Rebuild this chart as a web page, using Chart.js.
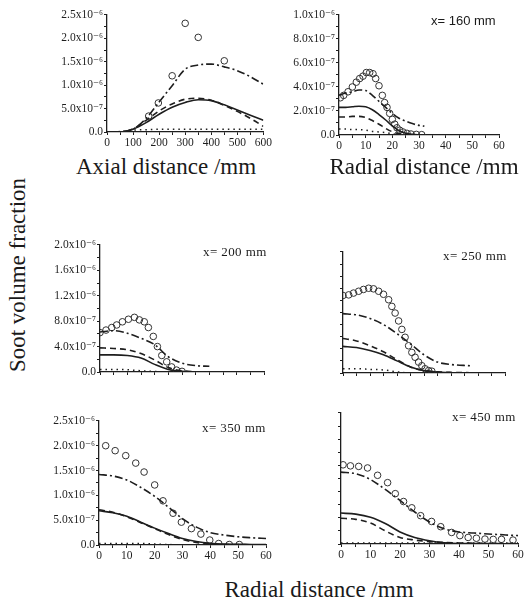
<!DOCTYPE html>
<html>
<head>
<meta charset="utf-8">
<script src="https://cdn.jsdelivr.net/npm/chart.js@4.4.1/dist/chart.umd.min.js"></script>
<style>
    body { margin: 0; width: 526px; height: 601px; position: relative; overflow: hidden; background: #fff; font-family: "Liberation Serif", "DejaVu Serif", serif; color: #1a1a1a; }
    canvas { position: absolute; }
    .note { position: absolute; white-space: nowrap; font-size: 13px; letter-spacing: 0.4px; transform: translateY(-50%); }
    .note.sans { font-family: "Liberation Sans", Arial, sans-serif; font-size: 13px; letter-spacing: 0; }
    .title { position: absolute; white-space: nowrap; font-size: 23px; transform: translate(-50%, -50%); }
</style>
</head>
<body>

<script>
// soot volume fraction values are in units of 1e-6
const axialTicks = [0, 100, 200, 300, 400, 500, 600];
const radialTicks = [0, 10, 20, 30, 40, 50, 60];
const yTicks25 = [0, 0.5, 1.0, 1.5, 2.0, 2.5];
const yTicks20 = [0, 0.4, 0.8, 1.2, 1.6, 2.0];
const yTicks10 = [0, 0.2, 0.4, 0.6, 0.8, 1.0];

// axial profile
const p1ExpX = [160, 197, 250, 300, 350, 450];
const p1ExpY = [0.34, 0.62, 1.2, 2.32, 2.02, 1.52];
const p1LineX = [0, 50, 100, 150, 200, 250, 300, 350, 400, 450, 500, 550, 600];
const p1Solid = [0, 0, 0.06, 0.2, 0.38, 0.53, 0.63, 0.69, 0.67, 0.58, 0.47, 0.36, 0.25];
const p1Dashed = [0, 0, 0.07, 0.25, 0.45, 0.6, 0.7, 0.72, 0.68, 0.57, 0.44, 0.29, 0.12];
const p1DashDot = [0, 0.01, 0.06, 0.29, 0.64, 0.99, 1.34, 1.43, 1.45, 1.39, 1.31, 1.18, 1.02];
const p1Dotted = [0, 0, 0.04, 0.05, 0.06, 0.06, 0.06, 0.06, 0.06, 0.06, 0.06, 0.06, 0.06];

// x = 160 mm
const p2ExpX = [0.5, 1.75, 3.4, 5, 6.5, 7.75, 9, 10.25, 11.5, 12.75, 13.75, 15, 16.25, 17.1, 18, 19, 20, 20.9, 21.75, 22.75, 24, 25.5, 27, 29, 31];
const p2ExpY = [0.31, 0.33, 0.36, 0.40, 0.44, 0.47, 0.49, 0.52, 0.52, 0.51, 0.47, 0.41, 0.33, 0.27, 0.23, 0.18, 0.13, 0.09, 0.06, 0.04, 0.025, 0.014, 0.008, 0.005, 0.003];
const p2LineX = [0, 2.5, 5, 7.5, 10, 12.5, 15, 17.5, 20, 22.5, 25, 27.5, 30, 32];
const p2Solid = [0.23, 0.23, 0.235, 0.24, 0.235, 0.21, 0.17, 0.125, 0.075, 0.035, 0.015, 0.006, 0.002, 0];
const p2Dashed = [0.15, 0.15, 0.155, 0.155, 0.145, 0.12, 0.09, 0.055, 0.027, 0.012, 0.005, 0.002, 0, 0];
const p2DashDot = [0.33, 0.35, 0.36, 0.375, 0.37, 0.33, 0.28, 0.23, 0.18, 0.14, 0.115, 0.095, 0.08, 0.074];
const p2Dotted = [0.05, 0.05, 0.045, 0.045, 0.04, 0.03, 0.025, 0.02, 0.01, 0.004, 0, 0, 0, 0];

// x = 200 mm
const p3ExpX = [0, 2.2, 4.3, 6.1, 8.2, 10.4, 12.6, 14.4, 16.2, 17.7, 19.5, 21, 22.6, 24.4, 26.2, 28, 30];
const p3ExpY = [0.62, 0.66, 0.70, 0.74, 0.79, 0.83, 0.86, 0.82, 0.79, 0.70, 0.56, 0.40, 0.26, 0.16, 0.08, 0.03, 0.01];
const p3LineX = [0, 5, 10, 15, 20, 25, 30, 35, 40];
const p3Solid = [0.27, 0.27, 0.26, 0.22, 0.12, 0.04, 0.01, 0, 0];
const p3Dashed = [0.38, 0.37, 0.35, 0.29, 0.19, 0.07, 0.02, 0.005, 0];
const p3DashDot = [0.63, 0.65, 0.61, 0.53, 0.43, 0.24, 0.14, 0.10, 0.09];
const p3Dotted = [0.04, 0.04, 0.035, 0.02, 0.01, 0, 0, 0, 0];

// x = 250 mm
const p4ExpX = [0, 2.1, 3.9, 5.8, 7.6, 9.5, 11.3, 13.2, 15, 16.9, 18.1, 19.3, 20.6, 21.8, 23, 24.3, 25.5, 26.7, 28, 29.2, 30.4, 31.7, 32.9];
const p4ExpY = [1.28, 1.29, 1.32, 1.35, 1.38, 1.40, 1.39, 1.35, 1.30, 1.21, 1.10, 0.99, 0.86, 0.72, 0.59, 0.45, 0.34, 0.26, 0.18, 0.12, 0.07, 0.04, 0.03];
const p4LineX = [0, 5, 10, 15, 20, 25, 30, 35, 40, 47];
const p4Solid = [0.44, 0.42, 0.37, 0.30, 0.20, 0.10, 0.04, 0.015, 0.005, 0];
const p4Dashed = [0.57, 0.53, 0.45, 0.35, 0.22, 0.10, 0.04, 0.02, 0.01, 0.005];
const p4DashDot = [0.98, 0.96, 0.90, 0.80, 0.65, 0.48, 0.30, 0.18, 0.14, 0.12];
const p4Dotted = [0.07, 0.07, 0.06, 0.05, 0.02, 0, 0, 0, 0, 0];

// x = 350 mm
const p5ExpX = [2.4, 5.8, 9.6, 13.2, 16.2, 20, 23, 26.6, 29.6, 33.2, 36.6, 39.8, 43, 46.8, 50.4];
const p5ExpY = [2.0, 1.90, 1.80, 1.65, 1.47, 1.21, 0.89, 0.64, 0.46, 0.33, 0.22, 0.10, 0.03, 0.01, 0.01];
const p5LineX = [0, 5, 10, 15, 20, 25, 30, 35, 40, 45, 50, 55, 60];
const p5Solid = [0.69, 0.65, 0.58, 0.46, 0.34, 0.23, 0.13, 0.07, 0.035, 0.02, 0.015, 0.01, 0.01];
const p5Dashed = [0.71, 0.66, 0.57, 0.45, 0.33, 0.21, 0.11, 0.05, 0.02, 0.01, 0.01, 0.005, 0.005];
const p5DashDot = [1.42, 1.39, 1.31, 1.16, 0.98, 0.76, 0.53, 0.36, 0.25, 0.20, 0.165, 0.145, 0.13];
const p5Dotted = [0.03, 0.03, 0.03, 0.03, 0.02, 0.01, 0, 0, 0, 0, 0, 0, 0];

// x = 450 mm
const p6ExpX = [0.7, 3.2, 6, 9, 12.4, 15.8, 18.4, 21.2, 24, 27, 30.7, 33.8, 37.5, 40.3, 43.1, 45.9, 48.8, 51.6, 54.4, 58.3];
const p6ExpY = [1.51, 1.49, 1.48, 1.45, 1.31, 1.17, 0.96, 0.81, 0.69, 0.54, 0.43, 0.33, 0.22, 0.16, 0.125, 0.11, 0.094, 0.088, 0.088, 0.075];
const p6LineX = [0, 5, 10, 15, 20, 25, 30, 35, 40, 45, 50, 55, 60];
const p6Solid = [0.59, 0.57, 0.51, 0.39, 0.23, 0.125, 0.063, 0.025, 0.01, 0.008, 0.006, 0.005, 0.005];
const p6Dashed = [0.49, 0.47, 0.40, 0.25, 0.125, 0.075, 0.044, 0.03, 0.02, 0.015, 0.01, 0.01, 0.01];
const p6DashDot = [1.37, 1.34, 1.23, 1.04, 0.83, 0.61, 0.42, 0.29, 0.23, 0.21, 0.19, 0.175, 0.16];
const p6Dotted = [0.02, 0.02, 0.02, 0.02, 0.02, 0.02, 0.02, 0.02, 0.02, 0.02, 0.02, 0.02, 0.02];

const panelLabels = ['', 'x= 160 mm', 'x= 200 mm', 'x= 250 mm', 'x= 350 mm', 'x= 450 mm'];

// layout: chart area [left, top, right, bottom] in page pixels
const panels = [
    { box: [107, 13, 265, 132], xTicks: axialTicks, yTicks: yTicks25, showX: true, showY: true,
      expX: p1ExpX, expY: p1ExpY, lineX: p1LineX, solid: p1Solid, dashed: p1Dashed, dashDot: p1DashDot, dotted: p1Dotted },
    { box: [339, 13, 499, 135], xTicks: radialTicks, yTicks: yTicks10, showX: true, showY: true,
      expX: p2ExpX, expY: p2ExpY, lineX: p2LineX, solid: p2Solid, dashed: p2Dashed, dashDot: p2DashDot, dotted: p2Dotted,
      note: [431, 20, true] },
    { box: [100, 243, 264, 372], xTicks: radialTicks, yTicks: yTicks20, showX: false, showY: true,
      expX: p3ExpX, expY: p3ExpY, lineX: p3LineX, solid: p3Solid, dashed: p3Dashed, dashDot: p3DashDot, dotted: p3Dotted,
      note: [203, 252] },
    { box: [343, 250, 505, 373], xTicks: radialTicks, yTicks: yTicks20, showX: false, showY: false,
      expX: p4ExpX, expY: p4ExpY, lineX: p4LineX, solid: p4Solid, dashed: p4Dashed, dashDot: p4DashDot, dotted: p4Dotted,
      note: [443, 256] },
    { box: [99, 419, 266, 545], xTicks: radialTicks, yTicks: yTicks25, showX: true, showY: true,
      expX: p5ExpX, expY: p5ExpY, lineX: p5LineX, solid: p5Solid, dashed: p5Dashed, dashDot: p5DashDot, dotted: p5Dotted,
      note: [202, 428] },
    { box: [341, 411, 518, 544], xTicks: radialTicks, yTicks: yTicks25, showX: true, showY: false,
      expX: p6ExpX, expY: p6ExpY, lineX: p6LineX, solid: p6Solid, dashed: p6Dashed, dashDot: p6DashDot, dotted: p6Dotted,
      note: [452, 417] }
];

const YW = 58, XH = 22, PT = 6, PR = 8;
const INK = '#1e1e1e';
const tickFont = { family: '"Liberation Serif", "DejaVu Serif", serif', size: 11.5 };

const yLabel = (v) => {
    v = Math.round(v * 100) / 100;
    if (v === 0) return '0.0';
    if (v < 1) return (v * 10).toFixed(1) + 'x10\u207B\u2077';
    return v.toFixed(1) + 'x10\u207B\u2076';
};

const withMinor = (majors) => {
    const out = [];
    majors.forEach((v, i) => {
        out.push(v);
        if (i < majors.length - 1) out.push((v + majors[i + 1]) / 2);
    });
    return out;
};

const isMajor = (majors, v) => majors.some(m => Math.abs(m - v) < 1e-6);

const pts = (xs, ys) => xs.map((x, i) => ({ x, y: ys[i] }));

const lineSet = (xs, ys, dash, width) => ({
    data: pts(xs, ys),
    showLine: true,
    borderColor: INK,
    borderWidth: width,
    borderDash: dash,
    pointRadius: 0,
    cubicInterpolationMode: 'monotone',
    fill: false
});

const addText = (cls, text, left, top) => {
    const el = document.createElement('div');
    el.className = cls;
    el.textContent = text;
    el.style.left = left + 'px';
    el.style.top = top + 'px';
    document.body.appendChild(el);
    return el;
};

panels.forEach((p, idx) => {
    const [L, T, R, B] = p.box;
    const canvas = document.createElement('canvas');
    canvas.width = R - L + YW + PR;
    canvas.height = B - T + PT + XH;
    canvas.style.left = (L - YW) + 'px';
    canvas.style.top = (T - PT) + 'px';
    document.body.appendChild(canvas);

    const xAll = withMinor(p.xTicks);
    const yAll = withMinor(p.yTicks);

    new Chart(canvas.getContext('2d'), {
        type: 'scatter',
        data: {
            datasets: [
                lineSet(p.lineX, p.dotted, [1.5, 4], 1.5),
                lineSet(p.lineX, p.solid, [], 1.6),
                lineSet(p.lineX, p.dashed, [6, 4], 1.6),
                lineSet(p.lineX, p.dashDot, [8, 3, 2, 3], 1.6),
                {
                    data: pts(p.expX, p.expY),
                    pointStyle: 'circle',
                    pointRadius: 3.3,
                    borderColor: '#333',
                    borderWidth: 1,
                    backgroundColor: 'rgba(255,255,255,0)'
                }
            ]
        },
        options: {
            responsive: false,
            animation: false,
            layout: { padding: { top: PT, right: PR, left: 0, bottom: 0 } },
            plugins: { legend: { display: false }, tooltip: { enabled: false } },
            scales: {
                x: {
                    type: 'linear',
                    min: p.xTicks[0],
                    max: p.xTicks[p.xTicks.length - 1],
                    afterFit: (s) => { s.height = XH; },
                    afterBuildTicks: (s) => { s.ticks = xAll.map(v => ({ value: v })); },
                    ticks: {
                        autoSkip: false, maxRotation: 0, padding: 1, color: INK, font: tickFont,
                        callback: (v) => (p.showX && isMajor(p.xTicks, v)) ? String(v) : ''
                    },
                    grid: { drawOnChartArea: false, tickLength: 3, color: INK },
                    border: { color: INK, width: 1.3 }
                },
                y: {
                    type: 'linear',
                    min: p.yTicks[0],
                    max: p.yTicks[p.yTicks.length - 1],
                    afterFit: (s) => { s.width = YW; },
                    afterBuildTicks: (s) => { s.ticks = yAll.map(v => ({ value: v })); },
                    ticks: {
                        autoSkip: false, padding: 1, color: INK, font: tickFont,
                        callback: (v) => (p.showY && isMajor(p.yTicks, v)) ? yLabel(v) : ''
                    },
                    grid: { drawOnChartArea: false, tickLength: 3, color: INK },
                    border: { color: INK, width: 1.3 }
                }
            }
        }
    });

    if (p.note) {
        addText(p.note[2] ? 'note sans' : 'note', panelLabels[idx], p.note[0], p.note[1]);
    }
});

// axis titles
addText('title', 'Axial distance /mm', 166, 167);
addText('title', 'Radial distance /mm', 424, 167);
addText('title', 'Radial distance /mm', 319, 590);
const yTitle = addText('title', 'Soot volume fraction', 18, 275);
yTitle.style.transform = 'translate(-50%, -50%) rotate(-90deg)';
</script>
</body>
</html>
